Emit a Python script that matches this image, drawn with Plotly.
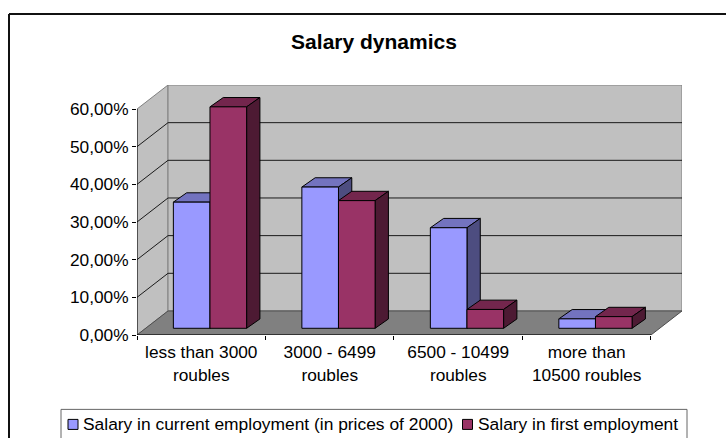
import plotly.graph_objects as go

categories = ["less than 3000<br>roubles", "3000 - 6499<br>roubles", "6500 - 10499<br>roubles", "more than<br>10500 roubles"]
series_names = ["Salary in current employment (in prices of 2000)", "Salary in first employment"]
current_job = [33.5, 37.5, 26.7, 2.5]
first_job = [58.8, 33.9, 5.0, 3.1]
value_ticks = [0, 10, 20, 30, 40, 50, 60]
value_labels = ["0,00%", "10,00%", "20,00%", "30,00%", "40,00%", "50,00%", "60,00%"]

W, H = 726, 438
L, R, T, B = 137, 682, 85, 334.7
UX = 128.4  # pixels per category
UY = 3.76   # pixels per percent
WALL_DX, WALL_DY = 31 / UX, 24 / UY
BAR_DX, BAR_DY = 13.3 / UX, 9.3 / UY
FRONT_X, FRONT_Y = 0.283, 6.7 / UY
BAR_W = 0.285
N = len(categories)
YMAX = value_ticks[-1]
WALL, FLOOR, EDGE = "#C0C0C0", "#808080", "#808080"
COL = {0: ("#9999FF", "#7373BF", "#4D4D80"), 1: ("#993366", "#73264D", "#4D1A33")}
FONT = "Liberation Sans, Arial, sans-serif"
FS = 17.3


def px(x):
    return (x - L) / (R - L)


def py(y):
    return (B - y) / (B - T)


fig = go.Figure()


def poly(xs, ys, fill=None, line="#000000", width=1, z=-1):
    fig.add_trace(go.Scatter(
        x=xs, y=ys, mode="lines", fill="toself" if fill else None, fillcolor=fill,
        line=dict(color=line, width=width), hoverinfo="skip", showlegend=False,
        cliponaxis=False, zorder=z))


# walls and floor
poly([0, WALL_DX, WALL_DX, 0, 0], [0, WALL_DY, YMAX + WALL_DY, YMAX, 0], WALL, EDGE)
poly([WALL_DX, N + WALL_DX, N + WALL_DX, WALL_DX, WALL_DX],
     [WALL_DY, WALL_DY, YMAX + WALL_DY, YMAX + WALL_DY, WALL_DY], WALL, EDGE)
poly([0, N, N + WALL_DX, WALL_DX, 0], [0, 0, WALL_DY, WALL_DY, 0], FLOOR, "#4D4D4D")
# gridlines
for v in value_ticks[1:-1]:
    poly([0, WALL_DX, N + WALL_DX], [v, v + WALL_DY, v + WALL_DY], None, "#1a1a1a")
poly([0, 0], [0, YMAX], None, "#000000")
poly([0, N], [0, 0], None, "#000000")

# bars
for s, vals in enumerate([current_job, first_job]):
    front, top, side = COL[s]
    z0 = s * 2
    for c, v in enumerate(vals):
        x0 = c + FRONT_X + s * BAR_W
        x1 = x0 + BAR_W
        y1 = FRONT_Y + v
        poly([x0, x0 + BAR_DX, x1 + BAR_DX, x1, x0],
             [y1, y1 + BAR_DY, y1 + BAR_DY, y1, y1], top, "#000000", 1, z0)
        poly([x1, x1 + BAR_DX, x1 + BAR_DX, x1, x1],
             [FRONT_Y, FRONT_Y + BAR_DY, y1 + BAR_DY, y1, FRONT_Y], side, "#000000", 1, z0)
    fig.add_trace(go.Bar(
        x=[c + FRONT_X + s * BAR_W for c in range(N)], y=vals,
        base=[FRONT_Y] * N, width=[BAR_W] * N, offset=0, name=series_names[s],
        marker=dict(color=front, line=dict(color="#000000", width=1)),
        showlegend=False, zorder=z0 + 1, cliponaxis=False))

shapes = [
    dict(type="line", xref="paper", yref="paper", x0=px(9), x1=px(726), y0=py(14), y1=py(14),
         line=dict(color="#111111", width=2)),
    dict(type="line", xref="paper", yref="paper", x0=px(9), x1=px(9), y0=py(14), y1=py(445),
         line=dict(color="#111111", width=2)),
    dict(type="rect", xref="paper", yref="paper", x0=px(61), x1=px(687), y0=py(409), y1=py(445),
         line=dict(color="#666666", width=1), fillcolor="#FFFFFF"),
]
annotations = []
legend_pos = [(68, 81), (462.5, 476)]
for s, (mx, tx) in enumerate(legend_pos):
    shapes.append(dict(type="rect", xref="paper", yref="paper", x0=px(mx), x1=px(mx + 10),
                       y0=py(419), y1=py(429), fillcolor=COL[s][0], line=dict(color="#000000", width=1)))
    annotations.append(dict(text=series_names[s], xref="paper", yref="paper", x=px(tx), y=py(423.5),
                            xanchor="left", yanchor="middle", showarrow=False,
                            font=dict(family=FONT, size=FS + 0.1, color="#000000")))

fig.update_layout(
    width=W, height=H, autosize=False, paper_bgcolor="#FFFFFF", plot_bgcolor="#FFFFFF",
    margin=dict(l=L, r=W - R, t=T, b=H - B, pad=0),
    barmode="overlay", showlegend=False, shapes=shapes, annotations=annotations,
    title=dict(text="<b>Salary dynamics</b>", x=374 / W, xanchor="center", xref="container",
               y=1 - 42 / H, yanchor="middle", yref="container",
               font=dict(family=FONT, size=21, color="#000000")),
    xaxis=dict(range=[0, N + WALL_DX], tickmode="array", tickvals=[c + 0.5 for c in range(N)],
               ticktext=categories, ticks="", ticklen=0, showgrid=False, showline=False, zeroline=False,
               tickfont=dict(family=FONT, size=FS, color="#000000"), automargin=False, ticklabelstandoff=5,
               minor=dict(ticks="outside", tick0=0, dtick=1, ticklen=4, tickcolor="#000000", tickwidth=1, showgrid=False),
               fixedrange=True),
    yaxis=dict(range=[0, YMAX + WALL_DY], tickmode="array", tickvals=value_ticks, ticktext=value_labels,
               ticks="outside", ticklen=4, tickcolor="#000000", tickwidth=1, showgrid=False, showline=False,
               zeroline=False, tickfont=dict(family=FONT, size=FS, color="#000000"), automargin=False,
               fixedrange=True),
)
fig.write_html("out.html", config={"displayModeBar": False},
               post_script="document.body.style.margin='0';document.body.style.overflow='hidden';")
